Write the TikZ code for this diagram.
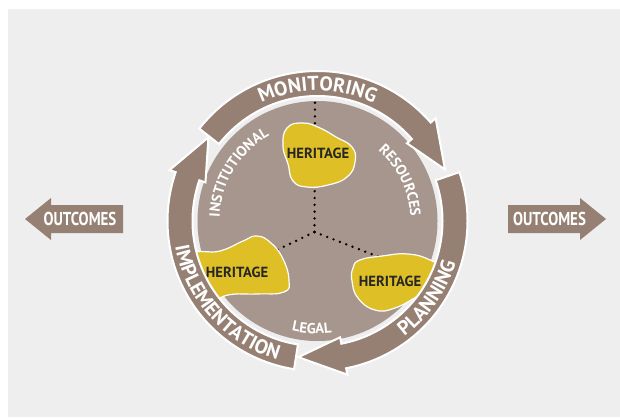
\documentclass[tikz,border=0pt]{standalone}
\usepackage{fontspec}
\setmainfont{PT Sans}
\usetikzlibrary{decorations.text}

\definecolor{ringbrown}{RGB}{150,127,115}
\definecolor{discbrown}{RGB}{167,150,141}
\definecolor{heritageyellow}{RGB}{222,191,38}
\definecolor{panelgray}{RGB}{238,238,238}

\newcommand{\ringtext}{\fontsize{15}{16}\selectfont\bfseries}
\newcommand{\disctext}{\fontsize{11}{12}\selectfont\bfseries}
% tail angle, head base angle, tip angle
\newcommand{\arcarrow}[3]{%
  \draw[ringarrow] (#1:125) -- (#1:150) arc[start angle=#1,end angle=#2,radius=150] -- (#2:156.5) -- (#3:137.5) -- (#2:118.5) -- (#2:125) arc[start angle=#2,end angle=#1,radius=125] -- cycle ;}

\tikzset{every picture/.style={line width=0.75pt}}
\tikzset{
  ringarrow/.style={fill=ringbrown,draw=white,line width=1.5pt,line join=miter},
  heritageblob/.style={fill=heritageyellow,draw=white,line width=0.9pt},
  heritagelabel/.style={text=black!85,font=\fontsize{11}{12}\selectfont\bfseries},
  dotline/.style={line width=2pt,line cap=round,dash pattern=on 0pt off 5.1pt},
  outcomelabel/.style={text=white,font=\fontsize{14}{15}\selectfont\bfseries},
}

\begin{document}
\begin{tikzpicture}[x=0.75pt,y=0.75pt,yscale=-1,xscale=1]
	\useasboundingbox (0,0) rectangle (620,418);

	%Shape: Rectangle [panel]
	\fill[white] (0,0) rectangle (620,418);
	\fill[panelgray] (8,9) rectangle (620,417);

	%Shape: Arrow [left outcome]
	\fill[ringbrown] (123,205) -- (51,205) -- (51,198) -- (25,219) -- (51,240) -- (51,233) -- (123,233) -- cycle ;
	%Shape: Arrow [right outcome]
	\fill[ringbrown] (508,205) -- (580,205) -- (580,198) -- (606,219) -- (580,240) -- (580,233) -- (508,233) -- cycle ;

	% Text Node
	\node[outcomelabel] (outLeft) at (80,219) {\scalebox{0.8}[1]{OUTCOMES}};
	% Text Node
	\node[outcomelabel] (outRight) at (549.5,219) {\scalebox{0.8}[1]{OUTCOMES}};

	%Shape: Circle [disc]
	\fill[discbrown] (317.5,221) circle (120);

	%Dotted Lines
	\coordinate (hub) at (314.5,232);
	\coordinate (dotTop) at (315,101);
	\coordinate (dotLeft) at (277,250);
	\coordinate (dotRight) at (379,257);
	\draw[dotline] (hub) -- (dotTop) ;
	\draw[dotline] (hub) -- (dotLeft) ;
	\draw[dotline] (hub) -- (dotRight) ;

	%Shape: Blob [top heritage]
	\draw[heritageblob] plot[smooth cycle,tension=0.8] coordinates {(287,128) (303,123) (320,128) (336,137) (352,147) (355,162) (347,177) (328,185) (307,187) (293,181) (288,164) (283,146)} ;
	%Shape: Blob [left heritage]
	\draw[heritageblob] plot[smooth cycle,tension=0.8] coordinates {(190,256) (220,251) (243,241) (257,236) (271,243) (283,259) (289,280) (284,292) (257,294) (228,295) (205,304) (188,290)} ;
	%Shape: Blob [right heritage]
	\draw[heritageblob] plot[smooth cycle,tension=0.8] coordinates {(360,260) (382,256) (408,254) (430,260) (442,270) (436,288) (420,295) (395,308) (375,310) (358,298) (352,281) (353,268)} ;

	% Text Node
	\node[heritagelabel] (herTop) at (318,153) {HERITAGE};
	% Text Node
	\node[heritagelabel] (herLeft) at (237,272) {HERITAGE};
	% Text Node
	\node[heritagelabel] (herRight) at (390,281) {HERITAGE};

	\begin{scope}[shift={(317.5,221)},yscale=-1]
	% Curved Text [disc]
	\path[decorate,decoration={text along path,text={|\disctext|INSTITUTIONAL},text align=center,text color=white}] (185:98) arc[start angle=185,end angle=112,radius=98] ;
	\path[decorate,decoration={text along path,text={|\disctext|RESOURCES},text align=center,text color=white}] (56:93) arc[start angle=56,end angle=-4,radius=93] ;
	\path[decorate,decoration={text along path,text={|\disctext|LEGAL},text align=center,text color=white}] (247:112.5) arc[start angle=247,end angle=287,radius=112.5] ;

	%Shape: Ring Arrows
	\arcarrow{142}{41}{22}
	\arcarrow{19}{-79}{-98}
	\arcarrow{261}{161}{142.5}

	% Curved Text [ring]
	\path[decorate,decoration={text along path,text={|\ringtext|MONITORING},text align=center,text color=white}] (150:130.5) arc[start angle=150,end angle=30,radius=130.5] ;
	\path[decorate,decoration={text along path,text={|\ringtext|PLANNING},text align=center,text color=white}] (-75:144.5) arc[start angle=-75,end angle=5,radius=144.5] ;
	\path[decorate,decoration={text along path,text={|\ringtext|IMPLEMENTATION},text align=center,text color=white}] (182:144.5) arc[start angle=182,end angle=262,radius=144.5] ;
	\end{scope}

\end{tikzpicture}
\end{document}
